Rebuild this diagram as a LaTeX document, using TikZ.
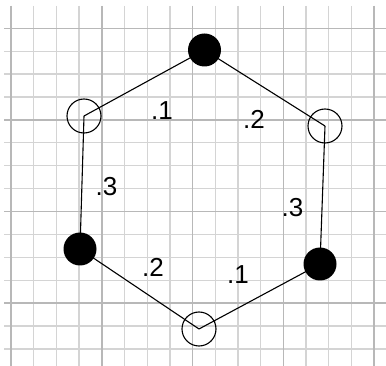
\documentclass[tikz,border=0pt]{standalone}
\usepackage{fontspec}
\setmainfont{Liberation Sans}
\begin{document}
\begin{tikzpicture}[x=1pt,y=-1pt,
  minor/.style={draw=black!17, line width=1.3pt},
  major/.style={draw=black!28, line width=1.5pt},
  edge/.style={draw=black, line width=1.1pt},
  filled/.style={circle, fill=black, inner sep=0pt, minimum size=33pt},
  open/.style={circle, draw=black, line width=1.1pt, inner sep=0pt, minimum size=34pt},
  lab/.style={anchor=base west, inner sep=0pt, font=\fontsize{26}{26}\selectfont}]
\useasboundingbox (0,0) rectangle (386,366);
\fill[white] (0,0) rectangle (386,366);
% grid
\foreach \i in {0,...,16} { \draw[minor] ({11+22.7*\i},6) -- ({11+22.7*\i},366); }
\foreach \j in {0,...,14} { \draw[minor] (4,{28.3+22.9*\j}) -- (386,{28.3+22.9*\j}); }
\foreach \i in {0,4,8,12,16} { \draw[major] ({11+22.7*\i},6) -- ({11+22.7*\i},366); }
\foreach \j in {0,4,8,12} { \draw[major] (4,{28.3+22.9*\j}) -- (386,{28.3+22.9*\j}); }
% vertices
\coordinate (A) at (204.5,50);
\coordinate (B) at (84,116);
\coordinate (C) at (80,249);
\coordinate (D) at (199,329);
\coordinate (E) at (320,264);
\coordinate (F) at (325,126);
% edges
\draw[edge] (A) -- (B);
\draw[edge] (B) -- (C);
\draw[edge] (C) -- (D);
\draw[edge] (D) -- (E);
\draw[edge] (E) -- (F);
\draw[edge] (F) -- (A);
% circles
\node[filled] (nA) at (A) {};
\node[filled] (nC) at (C) {};
\node[filled] (nE) at (E) {};
\node[open] (nB) at (B) {};
\node[open] (nD) at (D) {};
\node[open] (nF) at (F) {};
% labels
\node[lab] (l1) at (151,120) {.1};
\node[lab] (l2) at (243,129) {.2};
\node[lab] (l3) at (95.5,196) {.3};
\node[lab] (l4) at (281.5,217) {.3};
\node[lab] (l5) at (142,277) {.2};
\node[lab] (l6) at (227,284) {.1};
\end{tikzpicture}
\end{document}
